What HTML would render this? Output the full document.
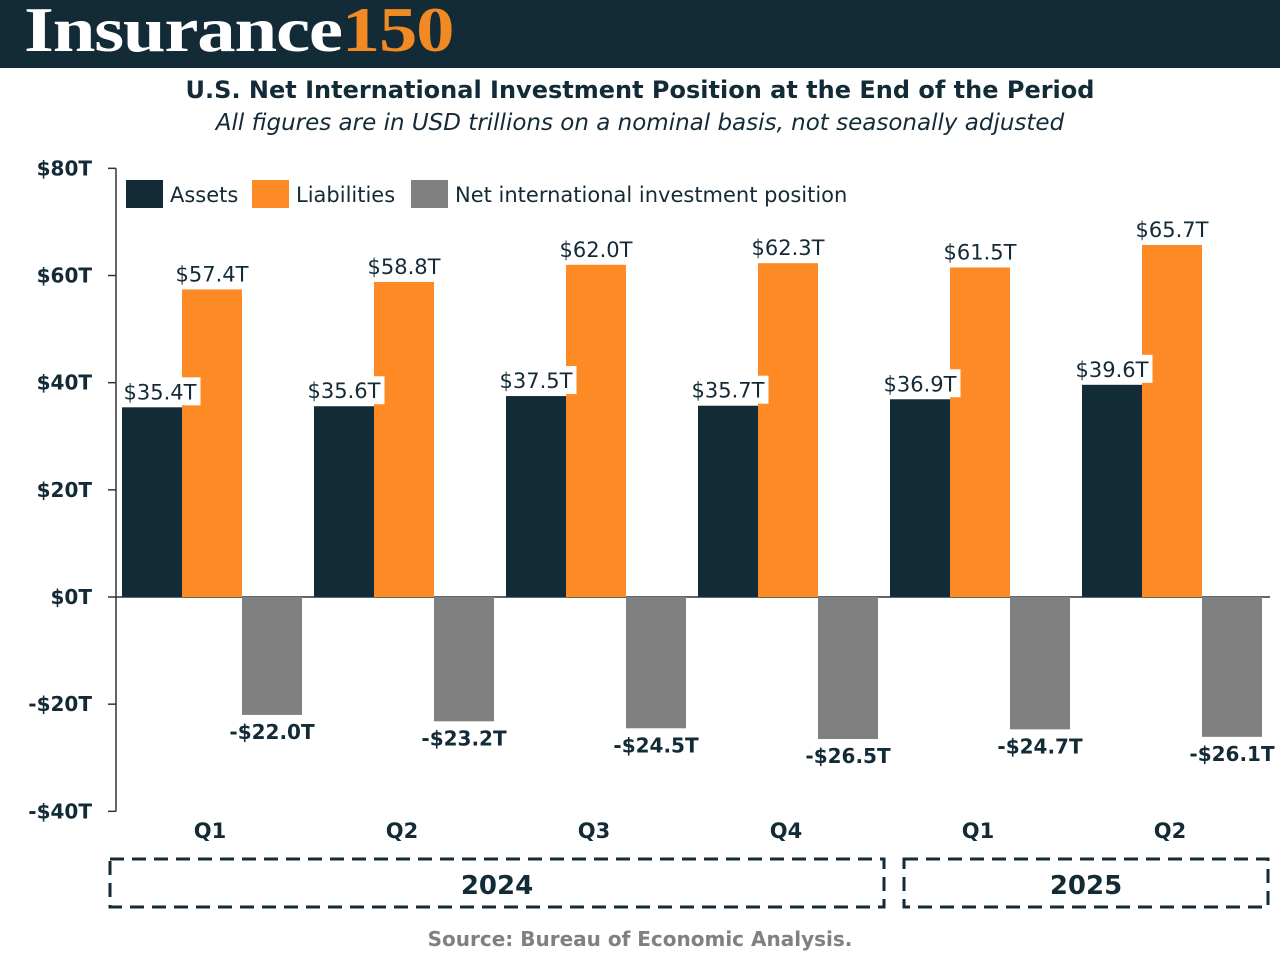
<!DOCTYPE html>
<html><head><meta charset="utf-8"><style>
body{margin:0;width:1280px;height:960px;background:#fff;overflow:hidden;font-family:"DejaVu Sans","Liberation Sans",sans-serif}
#hdr{position:absolute;left:0;top:0;width:1280px;height:68px;background:#132a37}
#logo{position:absolute;left:24px;top:-7px;font-family:"Liberation Serif",serif;font-weight:bold;font-size:64px;color:#fff;letter-spacing:-1px;transform:scaleX(1.2);transform-origin:0 0;white-space:nowrap}
#logo span{color:#f28a24}
</style></head><body>
<div id="hdr"><div id="logo">Insurance<span>150</span></div></div>
<svg id="c" width="1280" height="960" style="position:absolute;left:0;top:0"></svg>
<script>
const categories=["Q1","Q2","Q3","Q4","Q1","Q2"];
const assets=[35.4,35.6,37.5,35.7,36.9,39.6];
const liabilities=[57.4,58.8,62.0,62.3,61.5,65.7];
const net=[-22.0,-23.2,-24.5,-26.5,-24.7,-26.1];
const yTicks=[80,60,40,20,0,-20,-40];
const years=[{label:"2024",from:0,to:3},{label:"2025",from:4,to:5}];
const svg=document.getElementById('c');const NS="http://www.w3.org/2000/svg";
function y(v){return 597-v*(643/120);}
function gx(i){return 122+i*192;}
function el(t,a,txt,p){const e=document.createElementNS(NS,t);for(const k in a)e.setAttribute(k,a[k]);if(txt!==undefined)e.textContent=txt;(p||svg).appendChild(e);return e;}
let e;
e=el('text',{x:640,y:98,'text-anchor':'middle','font-size':24,'font-weight':'bold',fill:'#132a37'},"U.S. Net International Investment Position at the End of the Period");

e=el('text',{x:640,y:130,'text-anchor':'middle','font-size':23,'font-style':'italic',fill:'#132a37'},"All figures are in USD trillions on a nominal basis, not seasonally adjusted");

e=el('line',{x1:116,x2:116,y1:y(80),y2:y(-40),stroke:'#333','stroke-width':1.5});

yTicks.forEach(v=>{
 e=el('line',{x1:108,x2:116,y1:y(v),y2:y(v),stroke:'#333','stroke-width':1.5});
 
 e=el('text',{x:92,y:y(v)+7,'text-anchor':'end','font-size':20,'font-weight':'bold',fill:'#132a37'},(v<0?'-$'+(-v):'$'+v)+'T');
 
});
e=el('line',{x1:116,x2:1270,y1:y(0),y2:y(0),stroke:'#333','stroke-width':1.5});

function lab(x,yy,t,bold){
 const w=t.length*12.5+6;
 let r=el('rect',{x:x-w/2,y:yy-22,width:w,height:28,fill:'#fff'});
 
 let tx=el('text',{x:x,y:yy,'text-anchor':'middle','font-size':bold?20:21,'font-weight':bold?'bold':'normal',fill:'#132a37'},t);
 
}
const fmt=v=>(v<0?'-$'+(-v).toFixed(1):'$'+v.toFixed(1))+'T';
categories.forEach((c,i)=>{
 const x=gx(i);
 let b=el('rect',{x:x,y:y(assets[i]),width:60,height:y(0)-y(assets[i]),fill:'#132a37'});
 
 b=el('rect',{x:x+60,y:y(liabilities[i]),width:60,height:y(0)-y(liabilities[i]),fill:'#fd8a24'});
 
 b=el('rect',{x:x+120,y:y(0),width:60,height:y(net[i])-y(0),fill:'#808080'});
 
 lab(x+90,y(liabilities[i])-8,fmt(liabilities[i]));
 lab(x+(i===0?38:30),y(assets[i])-8,fmt(assets[i]));
 lab(x+150,y(net[i])+24,fmt(net[i]),true);
 let t=el('text',{x:x+88,y:838,'text-anchor':'middle','font-size':21,'font-weight':'bold',fill:'#132a37'},c);
 
});
years.forEach(g=>{
 const x1=g.from===0?110:904, x2=g.to===5?1268:884;
 let r=el('rect',{x:x1,y:859,width:x2-x1,height:48,fill:'none',stroke:'#132a37','stroke-width':3,'stroke-dasharray':'14 8'});
 
 let t=el('text',{x:(x1+x2)/2,y:894,'text-anchor':'middle','font-size':26,'font-weight':'bold',fill:'#132a37'},g.label);
 
});
const leg=[["Assets","#132a37",126],["Liabilities","#fd8a24",252],["Net international investment position","#808080",411]];
leg.forEach(l=>{
 let g=el('g',{});
 
 el('rect',{x:l[2],y:180,width:37,height:28,fill:l[1]},undefined,g);
 el('text',{x:l[2]+44,y:202,'font-size':21,fill:'#132a37'},l[0],g);
});
e=el('text',{x:640,y:946,'text-anchor':'middle','font-size':20,'font-weight':'bold',fill:'#808080'},"Source: Bureau of Economic Analysis.");

</script>
</body></html>
